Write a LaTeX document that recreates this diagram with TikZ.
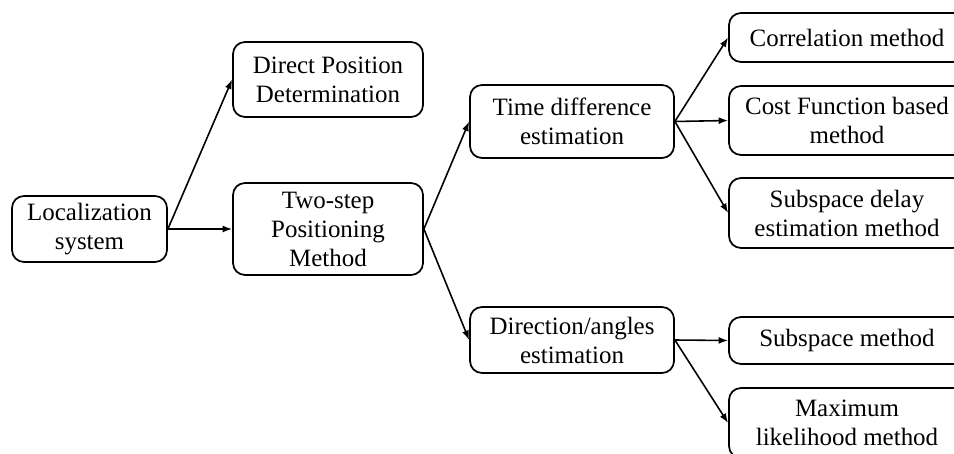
\documentclass[tikz,border=0pt]{standalone}
\usepackage{fontspec}
\setmainfont{Liberation Serif}
\usepackage{tikz}
\usetikzlibrary{arrows.meta}
\tikzset{
    box/.style={draw, rounded corners=0.24cm, line width=1pt, align=center,
        inner sep=0pt, font=\fontsize{14.2}{16.5}\selectfont},
    link/.style={line width=0.9pt, -{Latex[length=1.9mm,width=1.4mm]}},
}

\begin{document}
\begin{tikzpicture}
\useasboundingbox (0,0) rectangle (19.08,9.06);
\clip (0,0) rectangle (19.08,9.06);
\node[box, minimum width=3.10cm, minimum height=1.32cm] (loc) at (1.79,4.48) {Localization\\system};
\node[box, minimum width=3.80cm, minimum height=1.50cm] (dpd) at (6.56,7.47) {Direct Position\\Determination};
\node[box, minimum width=3.80cm, minimum height=1.84cm] (two) at (6.56,4.48) {Two-step\\Positioning\\Method};
\node[box, minimum width=4.08cm, minimum height=1.46cm] (tde) at (11.44,6.63) {Time difference\\estimation};
\node[box, minimum width=4.08cm, minimum height=1.32cm] (dae) at (11.44,2.26) {Direction/angles\\estimation};
\node[box, minimum width=4.72cm, minimum height=0.98cm] (cor) at (16.94,8.31) {Correlation method};
\node[box, minimum width=4.72cm, minimum height=1.38cm] (cost) at (16.94,6.65) {Cost Function based\\method};
\node[box, minimum width=4.72cm, minimum height=1.40cm] (sdel) at (16.94,4.80) {Subspace delay\\estimation method};
\node[box, minimum width=4.72cm, minimum height=0.94cm] (sub) at (16.94,2.25) {Subspace method};
\node[box, minimum width=4.72cm, minimum height=1.40cm] (ml) at (16.94,0.60) {Maximum\\likelihood method};
\draw[link] (loc.east) -- (dpd.west);
\draw[link] (loc.east) -- (two.west);
\draw[link] (two.east) -- (tde.west);
\draw[link] (two.east) -- (dae.west);
\foreach \t in {cor,cost,sdel} {
\draw[link] (tde.east) -- (\t.west);
}
\foreach \t in {sub,ml} {
\draw[link] (dae.east) -- (\t.west);
}
\end{tikzpicture}
\end{document}
